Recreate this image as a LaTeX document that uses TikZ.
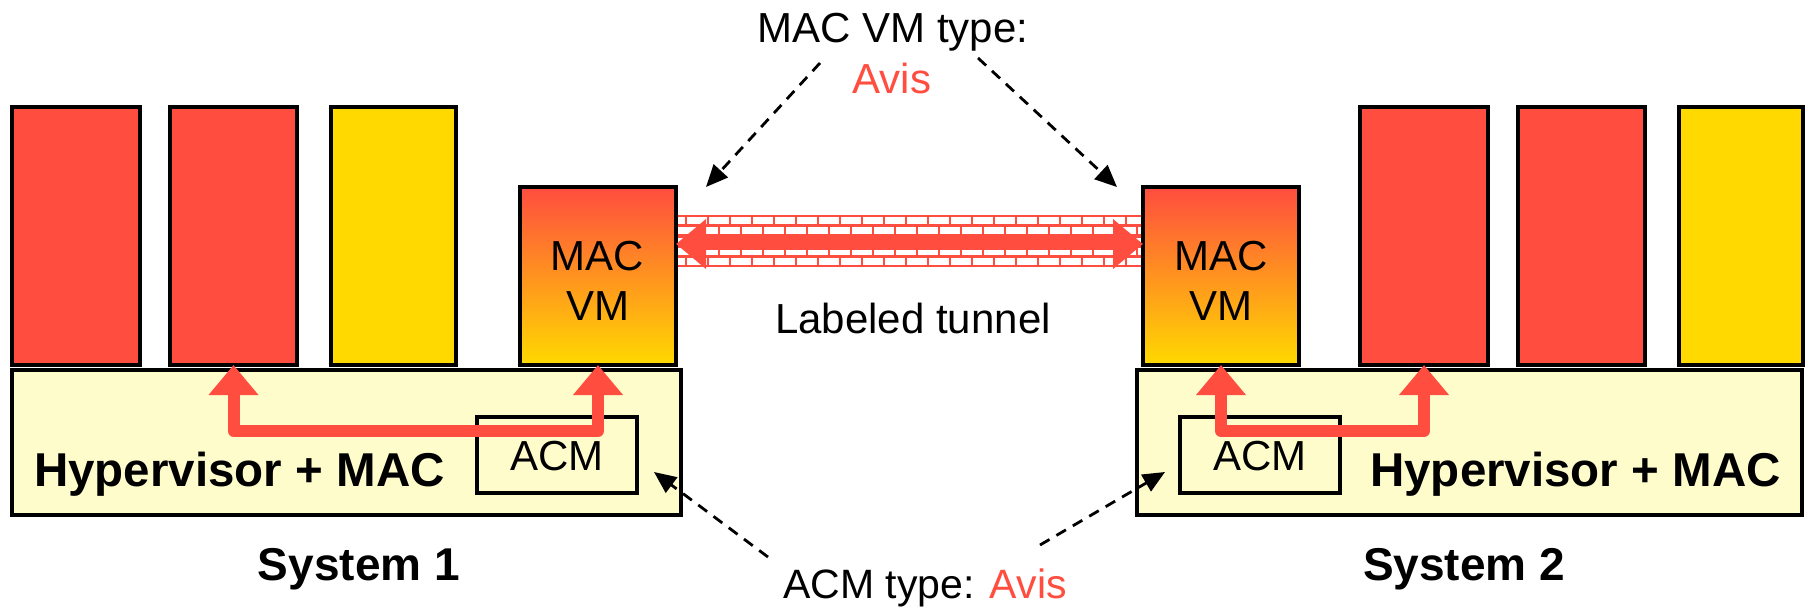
\documentclass[tikz,border=0pt]{standalone}
\usepackage{fontspec}
\setmainfont{Liberation Sans}
\usetikzlibrary{arrows.meta}
\definecolor{vmred}{HTML}{FF4D3F}
\definecolor{vmyel}{HTML}{FFD900}
\definecolor{vmorange}{HTML}{FFA22E}
\definecolor{hypfill}{HTML}{FFFCCC}
\begin{document}
\begin{tikzpicture}[x=1pt,y=-1pt,
  box/.style={draw=black, line width=4pt, inner sep=0pt, outer sep=0pt, anchor=north west},
  redvm/.style={box, fill=vmred, minimum width=#1, minimum height=258pt},
  yelvm/.style={box, fill=vmyel, minimum width=#1, minimum height=258pt},
  macvm/.style={box, top color=vmred, middle color=vmorange, bottom color=vmyel, minimum width=156pt, minimum height=178pt},
  hyp/.style={box, fill=hypfill, minimum width=#1, minimum height=145pt},
  acmbox/.style={box, line width=3.5pt, minimum width=160pt, minimum height=76pt},
  txt/.style={inner sep=0pt, anchor=base, font=\fontsize{42}{50}\selectfont},
  btxt/.style={inner sep=0pt, anchor=base, font=\fontsize{47.5}{56}\selectfont\bfseries},
  systxt/.style={inner sep=0pt, anchor=base, font=\fontsize{46}{54}\selectfont\bfseries},
  vmtxt/.style={inner sep=0pt, align=center, font=\fontsize{42}{50}\selectfont},
  redarr/.style={draw=vmred, line width=12pt, line join=round,
    {Triangle[length=30pt,width=48pt]}-{Triangle[length=30pt,width=48pt]}},
  dasharr/.style={draw=black, line width=2.8pt, dash pattern=on 11pt off 8pt,
    -{Triangle[length=22pt,width=19pt]}},
]
\useasboundingbox (0,0) rectangle (1805,607);
\fill[white] (0,0) rectangle (1805,607);

% tunnel (brick band)
\node[inner sep=0pt, outer sep=0pt, minimum width=468pt, minimum height=52pt, anchor=north west] (tunnel) at (675,215) {};
\begin{scope}
  \clip (675,215) rectangle (1143,267);
  \fill[vmred] (675,215) rectangle (1143,267);
  \foreach \i in {0,...,4} {
    \pgfmathsetmacro{\yy}{215+\i*10.4+1.8}
    \pgfmathsetmacro{\off}{mod(\i,2)*11}
    \foreach \j in {0,...,22} {
      \fill[white] ({675+\off+\j*22-11+1.4},\yy) rectangle ++(19.2,6.8);
    }
  }
\end{scope}

% System 1
\node[redvm=128pt] (r1) at (12,107) {};
\node[redvm=127pt] (r2) at (170,107) {};
\node[yelvm=125pt] (y3) at (331,107) {};
\node[macvm] (macL) at (520,187) {};
\node[hyp=669pt] (hypL) at (12,370) {};
\node[acmbox] (acmL) at (477,417) {};

% System 2
\node[macvm] (macR) at (1143,187) {};
\node[redvm=128pt] (r4) at (1360,107) {};
\node[redvm=127pt] (r5) at (1518,107) {};
\node[yelvm=124pt] (y6) at (1679,107) {};
\node[hyp=665pt] (hypR) at (1137,370) {};
\node[acmbox] (acmR) at (1180,417) {};

% texts in boxes
\node[vmtxt] (mL) at (597.5,281) {MAC\\VM};
\node[vmtxt] (mR) at (1221,281) {MAC\\VM};
\node[btxt] (hL) at (239.5,486) {Hypervisor + MAC};
\node[btxt] (hR) at (1575.5,486) {Hypervisor + MAC};
\node[txt] (aL) at (557,470) {ACM};
\node[txt] (aR) at (1260,470) {ACM};

% red arrows
\coordinate (tunc) at (0,244);
\draw[redarr] (macL.east |- tunc) -- (macR.west |- tunc);
\coordinate (lowL) at (0,431);
\draw[redarr] (r2.south) -- (r2.south |- lowL) -- (macL.south |- lowL) -- (macL.south);
\draw[redarr] (macR.south) -- (macR.south |- lowL) -- (r4.south |- lowL) -- (r4.south);

% labels
\node[txt] (mvt) at (893,43) {MAC VM type:};
\node[txt, text=vmred] (avis) at (892,94) {Avis};
\node[txt] (lt) at (913,333) {Labeled tunnel};
\node[txt, font=\fontsize{41}{49}\selectfont] (acmt) at (925,598) {ACM type: \textcolor{vmred}{Avis}};
\node[systxt] (s1) at (359,580) {System 1};
\node[systxt] (s2) at (1464,580) {System 2};

% dashed pointers
\coordinate (p1s) at (820,63);
\coordinate (p1e) at (706,187);
\coordinate (p2s) at (978,58);
\coordinate (p2e) at (1117,187);
\coordinate (p3s) at (768,557);
\coordinate (p3e) at (654,472);
\coordinate (p4s) at (1040,545);
\coordinate (p4e) at (1165,472);
\draw[dasharr] (p1s) -- (p1e);
\draw[dasharr] (p2s) -- (p2e);
\draw[dasharr] (p3s) -- (p3e);
\draw[dasharr] (p4s) -- (p4e);
\end{tikzpicture}
\end{document}
